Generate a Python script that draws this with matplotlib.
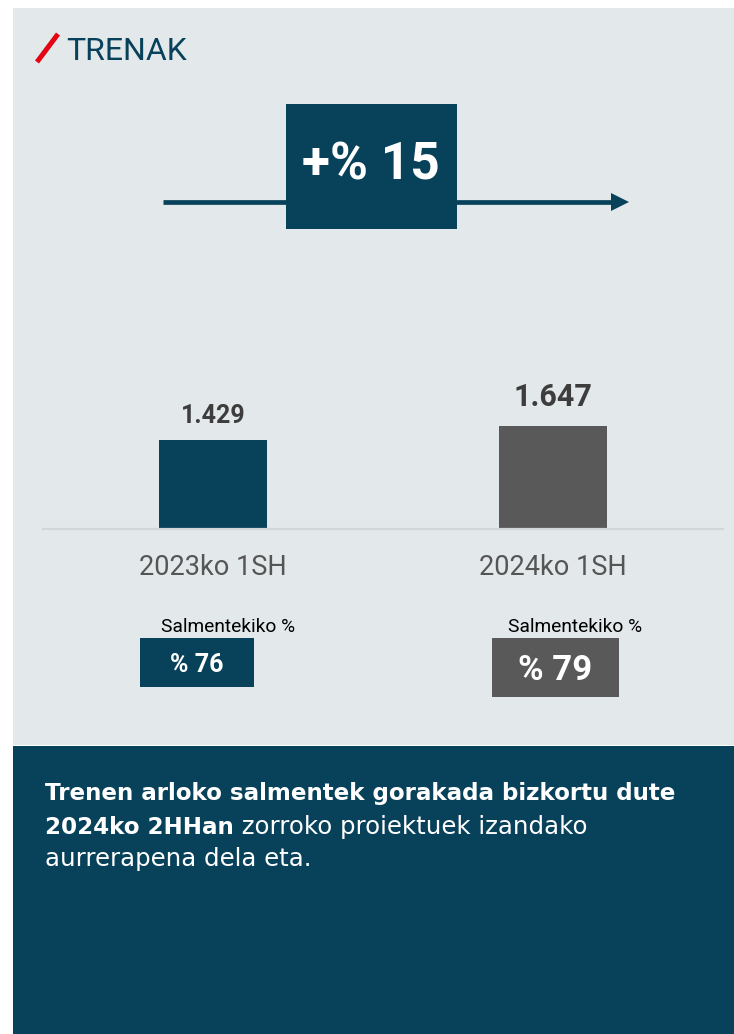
import matplotlib
matplotlib.use('Agg')
import matplotlib.pyplot as plt
from matplotlib.patches import Rectangle, Polygon

plt.rcParams['font.family'] = ['Roboto', 'DejaVu Sans']

# datuak
categories = ['2023ko 1SH', '2024ko 1SH']
sales = [1429, 1647]
value_labels = ['1.429', '1.647']
share_title = 'Salmentekiko %'
share_labels = ['% 76', '% 79']
growth_label = '+% 15'
title = 'TRENAK'
note_bold_1 = 'Trenen arloko salmentek gorakada bizkortu dute'
note_bold_2 = '2024ko 2HHan'
note_reg_2 = ' zorroko proiektuek izandako'
note_reg_3 = 'aurrerapena dela eta.'

BLUE = '#08415A'
GREY = '#595959'
PANEL = '#E3E8EB'
W, H = 734, 1034

fig = plt.figure(figsize=(W / 100, H / 100), dpi=100)
fig.patch.set_facecolor('white')

# fondoa (pixel koordenatuak)
bg = fig.add_axes([0, 0, 1, 1])
bg.set_xlim(0, W)
bg.set_ylim(H, 0)
bg.axis('off')
bg.add_patch(Rectangle((13, 8), W - 13, 737, color=PANEL, lw=0))
bg.add_patch(Rectangle((13, 746), W - 13, H - 746, color=BLUE, lw=0))

# izenburua
bg.plot([37, 58], [62, 34], color='#E30613', lw=3.6, solid_capstyle='butt')
bg.text(66, 48, title, color=BLUE, fontsize=23, ha='left', va='center_baseline')

# gezia eta hazkundea
bg.plot([163, 613], [202, 202], color=BLUE, lw=3.4, solid_capstyle='butt')
bg.add_patch(Polygon([[611, 193], [629, 202], [611, 211]], color=BLUE, lw=0))
bg.add_patch(Rectangle((286, 104), 171, 125, color=BLUE, lw=0))
bg.text(371, 160, growth_label, color='white', fontsize=37, fontweight='bold',
        ha='center', va='center_baseline')

# barrak
ymax = 2900
base_px = 529
h_px = ymax * 89 / sales[0]
ax = fig.add_axes([43 / W, (H - base_px) / H, 680 / W, h_px / H])
ax.set_facecolor('none')
bar_colors = [BLUE, GREY]
ax.bar(range(len(sales)), sales, width=0.315, color=bar_colors)
ax.set_xlim(-0.5, 1.5)
ax.set_ylim(0, ymax)
for s in ['top', 'right', 'left']:
    ax.spines[s].set_visible(False)
ax.spines['bottom'].set_color('#D2D6D9')
ax.spines['bottom'].set_linewidth(1.6)
ax.set_yticks([])
ax.set_xticks(range(len(categories)))
ax.set_xticklabels(categories, fontsize=19.5, color='#555555')
ax.tick_params(axis='x', length=0, pad=18)

lab_sizes = [18, 22]
lab_off = [12.5, 14.5]
for i, v in enumerate(sales):
    ax.annotate(value_labels[i], xy=(i, v), xytext=(0, lab_off[i]), textcoords='offset points',
                ha='center', va='baseline', fontsize=lab_sizes[i], fontweight='bold', color='#3D3D3D')

# salmentekiko ehunekoak
boxes = [(140, 638, 114, 49), (492, 638, 127, 59)]
title_x = [161, 508]
share_sizes = [18, 25]
for i, (bx, by, bw, bh) in enumerate(boxes):
    bg.text(title_x[i], 631.5, share_title, fontsize=13.8, color='black', ha='left', va='baseline')
    bg.add_patch(Rectangle((bx, by), bw, bh, color=bar_colors[i], lw=0))
    bg.text(bx + bw / 2, by + bh / 2, share_labels[i], fontsize=share_sizes[i], fontweight='bold',
            color='white', ha='center', va='center_baseline')

# oharra
nf = ['DejaVu Sans']
fs_b = 16.6
fs_r = 17.6
bg.text(45, 800, note_bold_1, fontsize=fs_b, fontweight='bold', color='white', ha='left',
        va='baseline', family=nf)
t2 = bg.text(45, 834, note_bold_2, fontsize=fs_b, fontweight='bold', color='white', ha='left',
             va='baseline', family=nf)
rend = fig.canvas.get_renderer()
bb = t2.get_window_extent(renderer=rend).transformed(bg.transData.inverted())
bg.text(bb.x1, 834, note_reg_2, fontsize=fs_r, color='white', ha='left', va='baseline', family=nf)
bg.text(45, 866, note_reg_3, fontsize=fs_r, color='white', ha='left', va='baseline', family=nf)

fig.savefig('out.png', dpi=100, facecolor=fig.get_facecolor())
